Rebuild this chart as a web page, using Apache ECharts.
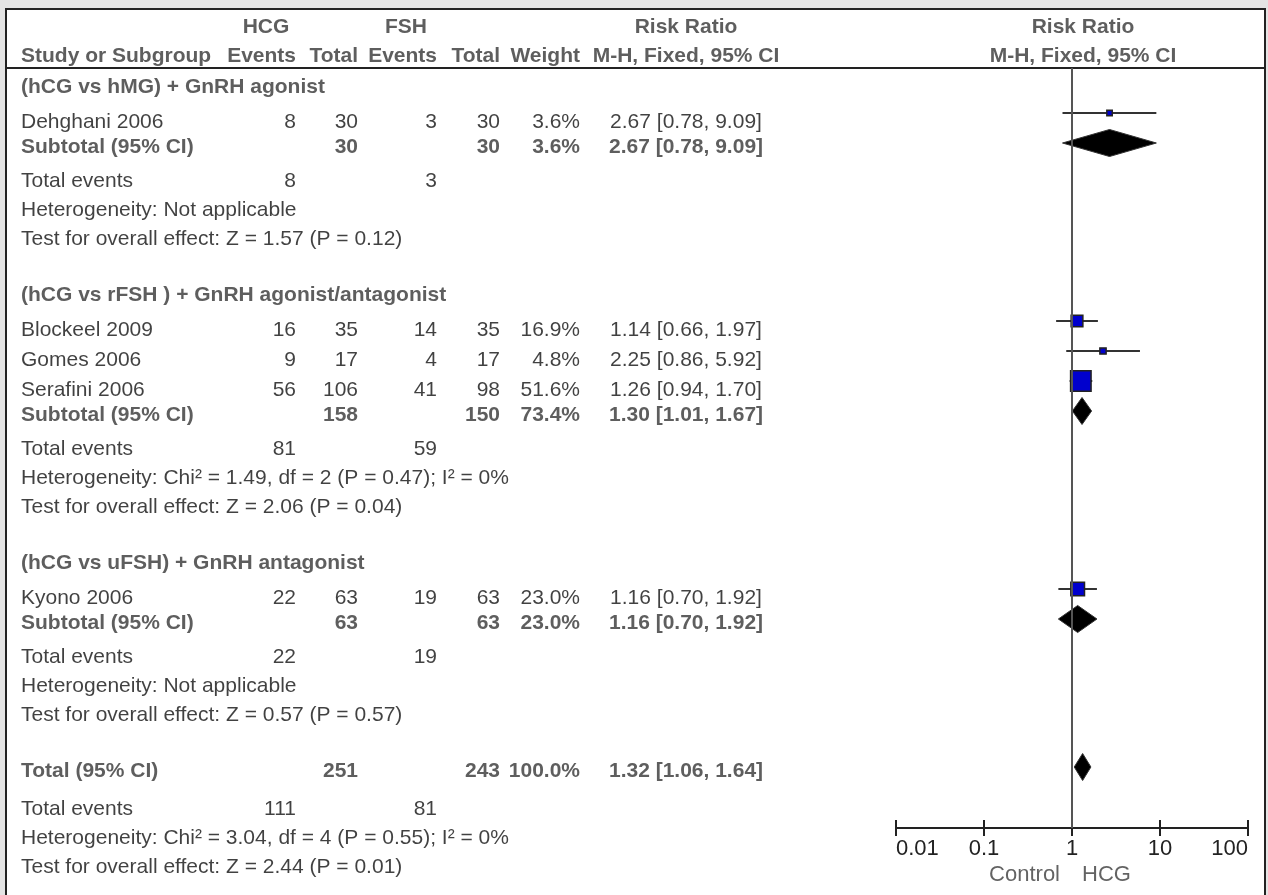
<!DOCTYPE html>
<html>
<head>
<meta charset="utf-8">
<script src="https://cdn.jsdelivr.net/npm/echarts@6/dist/echarts.min.js"></script>
<style>
  html, body { margin: 0; padding: 0; background: #e4e4e4; }
  #chart { width: 1268px; height: 895px; }
</style>
</head>
<body>
<div id="chart"></div>
<script>
// ---- data ----
const groupTitles = [
  '(hCG vs hMG) + GnRH agonist',
  '(hCG vs rFSH ) + GnRH agonist/antagonist',
  '(hCG vs uFSH) + GnRH antagonist',
]
const studyNames = ['Dehghani 2006', 'Blockeel 2009', 'Gomes 2006', 'Serafini 2006', 'Kyono 2006']
const studyGroup = [0, 1, 1, 1, 2]
const hcgEvents = [8, 16, 9, 56, 22]
const hcgTotal = [30, 35, 17, 106, 63]
const fshEvents = [3, 14, 4, 41, 19]
const fshTotal = [30, 35, 17, 98, 63]
const studyWeight = [3.6, 16.9, 4.8, 51.6, 23.0]
const studyRR = [2.67, 1.14, 2.25, 1.26, 1.16]
const studyLow = [0.78, 0.66, 0.86, 0.94, 0.70]
const studyHigh = [9.09, 1.97, 5.92, 1.70, 1.92]

// subgroups 0..2, then overall total
const pooledLabel = ['Subtotal (95% CI)', 'Subtotal (95% CI)', 'Subtotal (95% CI)', 'Total (95% CI)']
const pooledHcgTotal = [30, 158, 63, 251]
const pooledFshTotal = [30, 150, 63, 243]
const pooledWeight = [3.6, 73.4, 23.0, 100.0]
const pooledRR = [2.67, 1.30, 1.16, 1.32]
const pooledLow = [0.78, 1.01, 0.70, 1.06]
const pooledHigh = [9.09, 1.67, 1.92, 1.64]
const pooledHcgEvents = [8, 81, 22, 111]
const pooledFshEvents = [3, 59, 19, 81]
const pooledHet = [
  'Heterogeneity: Not applicable',
  'Heterogeneity: Chi² = 1.49, df = 2 (P = 0.47); I² = 0%',
  'Heterogeneity: Not applicable',
  'Heterogeneity: Chi² = 3.04, df = 4 (P = 0.55); I² = 0%',
]
const pooledTest = [
  'Test for overall effect: Z = 1.57 (P = 0.12)',
  'Test for overall effect: Z = 2.06 (P = 0.04)',
  'Test for overall effect: Z = 0.57 (P = 0.57)',
  'Test for overall effect: Z = 2.44 (P = 0.01)',
]
const axisTicks = [0.01, 0.1, 1, 10, 100]
const axisSides = ['Control', 'HCG']

// ---- layout ----
const FONT = '"Liberation Sans", Arial, Helvetica, sans-serif'
const FS = 21
const AXIS_FS = 22
// the white box runs off the bottom of the picture, so the grid stops at the page edge
const BOX = { left: 5, top: 8, right: 1266, bottom: 895 }
const RULE_Y = 68
const AXIS_Y = 828
const PLOT = { left: 896, width: 352 }
const NULL_X = PLOT.left + PLOT.width / 2
const COL = {
  name: 21, hcgEv: 296, hcgTot: 358, fshEv: 437, fshTot: 500,
  weight: 580, ci: 686, hcgHead: 266, fshHead: 406, plotHead: NULL_X + 11,
}
const HEAD_Y = [27, 56]
const SIDE_Y = 875
const GAP = { first: 87, title: 35, study: 30, sub: 25, events: 34, line: 29, section: 56, totalEvents: 38 }
const MARK_SHIFT = -9   // study squares sit a little above the text centre
const DIAMOND_SHIFT = -4
const SQUARE_K = 2.85
const DIAMOND_H = 13.5

const fmtCI = (rr, lo, hi) => `${rr.toFixed(2)} [${lo.toFixed(2)}, ${hi.toFixed(2)}]`

// text buckets
const regLeft = [], regRight = [], regCenter = [], boldLeft = [], boldRight = [], boldCenter = []
const studyRows = [], pooledRows = []

boldCenter.push([COL.hcgHead, HEAD_Y[0], 'HCG'], [COL.fshHead, HEAD_Y[0], 'FSH'],
  [COL.ci, HEAD_Y[0], 'Risk Ratio'], [COL.plotHead, HEAD_Y[0], 'Risk Ratio'],
  [COL.ci, HEAD_Y[1], 'M-H, Fixed, 95% CI'], [COL.plotHead, HEAD_Y[1], 'M-H, Fixed, 95% CI'])
boldLeft.push([COL.name, HEAD_Y[1], 'Study or Subgroup'])
boldRight.push([COL.hcgEv, HEAD_Y[1], 'Events'], [COL.hcgTot, HEAD_Y[1], 'Total'],
  [COL.fshEv, HEAD_Y[1], 'Events'], [COL.fshTot, HEAD_Y[1], 'Total'], [COL.weight, HEAD_Y[1], 'Weight'])

function pooledBlock(g, y) {
  const total = g === pooledLabel.length - 1
  boldLeft.push([COL.name, y, pooledLabel[g]])
  boldRight.push([COL.hcgTot, y, String(pooledHcgTotal[g])], [COL.fshTot, y, String(pooledFshTotal[g])],
    [COL.weight, y, pooledWeight[g].toFixed(1) + '%'])
  boldCenter.push([COL.ci, y, fmtCI(pooledRR[g], pooledLow[g], pooledHigh[g])])
  pooledRows.push([pooledRR[g], pooledLow[g], pooledHigh[g], y + DIAMOND_SHIFT])
  y += total ? GAP.totalEvents : GAP.events
  regLeft.push([COL.name, y, 'Total events'])
  regRight.push([COL.hcgEv, y, String(pooledHcgEvents[g])], [COL.fshEv, y, String(pooledFshEvents[g])])
  y += GAP.line
  regLeft.push([COL.name, y, pooledHet[g]])
  y += GAP.line
  regLeft.push([COL.name, y, pooledTest[g]])
  return y
}

let y = GAP.first
groupTitles.forEach((title, g) => {
  if (g > 0) y += GAP.section
  boldLeft.push([COL.name, y, title])
  let first = true
  studyNames.forEach((name, i) => {
    if (studyGroup[i] !== g) return
    y += first ? GAP.title : GAP.study
    first = false
    regLeft.push([COL.name, y, name])
    regRight.push([COL.hcgEv, y, String(hcgEvents[i])], [COL.hcgTot, y, String(hcgTotal[i])],
      [COL.fshEv, y, String(fshEvents[i])], [COL.fshTot, y, String(fshTotal[i])],
      [COL.weight, y, studyWeight[i].toFixed(1) + '%'])
    regCenter.push([COL.ci, y, fmtCI(studyRR[i], studyLow[i], studyHigh[i])])
    studyRows.push([studyRR[i], studyLow[i], studyHigh[i], y + MARK_SHIFT, studyWeight[i]])
  })
  y += GAP.sub
  y = pooledBlock(g, y)
})
y += GAP.section
pooledBlock(pooledLabel.length - 1, y)

function textSeries(items, align, bold, color, size) {
  return {
    type: 'scatter', xAxisIndex: 0, yAxisIndex: 0, symbolSize: 0, silent: true,
    data: items.map(([x, yy, t]) => ({ value: [x, yy], name: t })),
    label: {
      show: true,
      formatter: (p) => p.name,
      position: align === 'right' ? 'left' : align === 'left' ? 'right' : 'inside',
      distance: 0,
      fontFamily: FONT,
      fontSize: size || FS,
      fontWeight: bold ? 'bold' : 'normal',
      color,
    },
    emphasis: { disabled: true },
  }
}

const chart = echarts.init(document.getElementById('chart'))
chart.setOption({
  animation: false,
  grid: [
    {
      left: BOX.left, top: BOX.top, width: BOX.right - BOX.left, height: BOX.bottom - BOX.top,
      show: true, backgroundColor: '#fff', borderWidth: 0,
    },
    { left: PLOT.left, width: PLOT.width, top: RULE_Y, height: AXIS_Y - RULE_Y },
  ],
  xAxis: [
    { gridIndex: 0, type: 'value', min: BOX.left, max: BOX.right, show: false },
    {
      gridIndex: 1, type: 'log', logBase: 10, position: 'bottom',
      min: axisTicks[0], max: axisTicks[axisTicks.length - 1],
      axisLine: { lineStyle: { color: '#222', width: 2 } },
      axisTick: { length: 8, lineStyle: { color: '#222', width: 2 } },
      axisLabel: {
        fontFamily: FONT, fontSize: AXIS_FS, color: '#222', margin: 10,
        alignMinLabel: 'left', alignMaxLabel: 'right',
        formatter: (v) => String(axisTicks.find((t) => Math.abs(Math.log10(t) - Math.log10(v)) < 1e-6) ?? v),
      },
      splitLine: { show: false },
    },
    {
      gridIndex: 1, type: 'log', logBase: 10, position: 'bottom',
      min: axisTicks[0], max: axisTicks[axisTicks.length - 1],
      axisLine: { show: false },
      axisTick: { inside: true, length: 8, lineStyle: { color: '#222', width: 2 } },
      axisLabel: { show: false },
      splitLine: { show: false },
    },
  ],
  yAxis: [
    { gridIndex: 0, type: 'value', min: BOX.top, max: BOX.bottom, inverse: true, show: false },
    { gridIndex: 1, type: 'value', min: RULE_Y, max: AXIS_Y, inverse: true, show: false },
  ],
  series: [
    {
      ...textSeries(regLeft, 'left', false, '#111'),
      markLine: {
        silent: true, symbol: 'none', label: { show: false },
        lineStyle: { color: '#222', width: 2, type: 'solid' },
        // box top, left, right, and the header rule
        data: [{ yAxis: BOX.top + 1 }, { xAxis: BOX.left + 1 }, { xAxis: BOX.right - 1 }, { yAxis: RULE_Y }],
      },
    },
    textSeries(regRight, 'right', false, '#111'),
    textSeries(regCenter, 'center', false, '#111'),
    textSeries(boldLeft, 'left', true, '#363636'),
    textSeries(boldRight, 'right', true, '#363636'),
    textSeries(boldCenter, 'center', true, '#363636'),
    textSeries([[NULL_X - 12, SIDE_Y, axisSides[0]]], 'right', false, '#3c3c3c', AXIS_FS),
    textSeries([[NULL_X + 10, SIDE_Y, axisSides[1]]], 'left', false, '#3c3c3c', AXIS_FS),
    {
      type: 'custom', xAxisIndex: 1, yAxisIndex: 1, silent: true,
      data: studyRows,
      encode: { x: [0, 1, 2], y: 3 },
      renderItem: (params, api) => {
        const yy = api.value(3)
        const a = api.coord([api.value(1), yy])
        const b = api.coord([api.value(2), yy])
        const c = api.coord([api.value(0), yy])
        const s = SQUARE_K * Math.sqrt(api.value(4))
        return {
          type: 'group',
          children: [
            { type: 'line', shape: { x1: a[0], y1: a[1], x2: b[0], y2: b[1] }, style: { stroke: '#333', lineWidth: 2 } },
            { type: 'rect', shape: { x: c[0] - s / 2, y: c[1] - s / 2, width: s, height: s }, style: { fill: '#0000cd', stroke: '#222', lineWidth: 1.5 } },
          ],
        }
      },
      markLine: {
        silent: true, symbol: 'none', label: { show: false },
        lineStyle: { color: '#555', width: 2, type: 'solid' },
        data: [{ xAxis: 1 }],
      },
      z: 3,
    },
    {
      type: 'custom', xAxisIndex: 1, yAxisIndex: 1, silent: true,
      data: pooledRows,
      encode: { x: [0, 1, 2], y: 3 },
      renderItem: (params, api) => {
        const yy = api.value(3)
        const a = api.coord([api.value(1), yy])
        const b = api.coord([api.value(2), yy])
        const c = api.coord([api.value(0), yy])
        return {
          type: 'polygon',
          shape: { points: [[a[0], a[1]], [c[0], c[1] - DIAMOND_H], [b[0], b[1]], [c[0], c[1] + DIAMOND_H]] },
          style: { fill: '#000', stroke: '#333', lineWidth: 1 },
        }
      },
      z: 4,
    },
  ],
})
</script>
</body>
</html>
